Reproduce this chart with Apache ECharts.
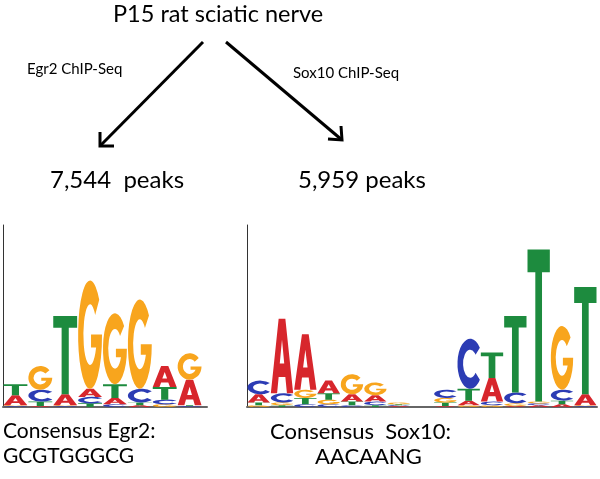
<!DOCTYPE html>
<html>
<head>
<meta charset="utf-8">
<script src="https://cdn.jsdelivr.net/npm/echarts@6/dist/echarts.min.js"></script>
<style>
  html, body { margin: 0; padding: 0; background: #fff; }
  #chart { width: 600px; height: 479px; }
</style>
</head>
<body>
<div id="chart"></div>
<script>
// letter heights (bits) per motif position
const bases = ['A', 'C', 'G', 'T'];

const egr2A = [0.11, 0.01, 0.12, 0.09, 0.07, 0.02, 0.23, 0.28];
const egr2C = [0.01, 0.13, 0.01, 0.07, 0.03, 0.15, 0.05, 0.01];
const egr2G = [0.01, 0.26, 0.01, 1.19, 0.78, 0.98, 0.03, 0.29];
const egr2T = [0.12, 0.05, 0.86, 0.04, 0.15, 0.03, 0.14, 0.01];

const sox10A = [0.09, 0.82, 0.61, 0.14, 0.08, 0.07, 0.01, 0, 0.01, 0.05, 0.26, 0.01, 0.02, 0.03, 0.12];
const sox10C = [0.15, 0.10, 0.03, 0.03, 0.02, 0.04, 0.01, 0, 0.09, 0.55, 0.04, 0.12, 0.02, 0.12, 0.01];
const sox10G = [0.02, 0.03, 0.09, 0.05, 0.22, 0.14, 0.02, 0, 0.05, 0.02, 0.02, 0.03, 0.02, 0.70, 0.01];
const sox10T = [0.03, 0.02, 0.07, 0.07, 0.04, 0.02, 0.01, 0, 0.04, 0.13, 0.28, 0.84, 1.67, 0.04, 1.18];

const baseColors = { A: '#d7262c', C: '#2c3cb4', G: '#f8a51d', T: '#1d8b3e' };

// glyph outlines in a 100x100 box, stretched to each letter's cell
const glyphs = {
  A: 'M0 100 L35 0 L65 0 L100 100 L72 100 L65 78 L35 78 L28 100 Z M40 60 L60 60 L50 28 Z',
  C: 'M88.3 17.9 A50 50 0 1 0 88.3 82.1 L71.4 68 A28 28 0 1 1 71.4 32 Z',
  G: 'M88.3 17.9 A50 50 0 1 0 100 50 L54 50 L54 62 L75.3 62 A28 28 0 1 1 71.4 32 Z',
  T: 'M0 0 L100 0 L100 15 L65 15 L65 100 L35 100 L35 15 L0 15 Z'
};

function toRows(a, c, g, t) {
  return a.map((v, i) => [i, v, c[i], g[i], t[i]]);
}

function renderLogo(params, api) {
  const i = api.value(0);
  // smallest letter at the bottom, largest on top
  const letters = bases.map((b, k) => ({ b: b, h: api.value(k + 1) }))
    .sort((p, q) => p.h - q.h);
  const children = [];
  let acc = 0;
  letters.forEach(({ b, h }) => {
    const lo = api.coord([i, acc]);
    const hi = api.coord([i + 1, acc + h]);
    acc += h;
    const height = lo[1] - hi[1];
    if (height < 0.6) return;
    children.push({
      type: 'path',
      shape: {
        pathData: glyphs[b],
        x: lo[0] + 0.5,
        y: hi[1],
        width: hi[0] - lo[0] - 1,
        height: height,
        layout: 'cover'
      },
      style: { fill: baseColors[b] }
    });
  });
  return { type: 'group', children: children };
}

function axisX(grid, max) {
  return {
    gridIndex: grid, type: 'value', min: 0, max: max,
    axisLine: { show: true, onZero: false, lineStyle: { color: '#666', width: 2 } },
    axisTick: { show: false }, axisLabel: { show: false }, splitLine: { show: false }
  };
}
function axisY(grid) {
  return {
    gridIndex: grid, type: 'value', min: 0, max: 2,
    axisLine: { show: true, lineStyle: { color: '#333', width: 1 } },
    axisTick: { show: false }, axisLabel: { show: false }, splitLine: { show: false }
  };
}

const font = 'Lato';
function label(text, x, y, size) {
  return {
    type: 'text', x: x, y: y,
    style: {
      text: text, font: size + 'px ' + font, fill: '#000',
      align: 'left', textAlign: 'left', verticalAlign: 'top', textVerticalAlign: 'top'
    }
  };
}
function arrow(x1, y1, x2, y2, armA, armB) {
  return [
    { type: 'line', shape: { x1: x1, y1: y1, x2: x2, y2: y2 }, style: { stroke: '#000', lineWidth: 3 } },
    { type: 'polyline', shape: { points: [armA, [x2, y2], armB] }, style: { stroke: '#000', lineWidth: 3, fill: null } }
  ];
}

const chart = echarts.init(document.getElementById('chart'));
chart.setOption({
  animation: false,
  backgroundColor: '#fff',
  grid: [
    { left: 3, top: 225, width: 204, height: 182 },
    { left: 247, top: 225, width: 350, height: 182 }
  ],
  xAxis: [axisX(0, 8.2), axisX(1, 15)],
  yAxis: [axisY(0), axisY(1)],
  series: [
    { type: 'custom', xAxisIndex: 0, yAxisIndex: 0, renderItem: renderLogo, data: toRows(egr2A, egr2C, egr2G, egr2T) },
    { type: 'custom', xAxisIndex: 1, yAxisIndex: 1, renderItem: renderLogo, data: toRows(sox10A, sox10C, sox10G, sox10T) }
  ],
  graphic: [
    label('P15 rat sciatic nerve', 113, 2, 23.5),
    label('Egr2 ChIP-Seq', 27, 62, 15),
    label('Sox10 ChIP-Seq', 293, 66, 15),
    label('7,544  peaks', 50, 168, 24),
    label('5,959 peaks', 298, 168, 24),
    label('Consensus Egr2:', 3, 421, 21),
    label('GCGTGGGCG', 3, 446, 21),
    label('Consensus  Sox10:', 270, 421, 22),
    label('AACAANG', 315, 446, 22)
  ].concat(
    arrow(203, 42, 100, 146, [100, 132], [114, 146]),
    arrow(226, 42, 342, 140, [341, 126], [328, 139])
  )
});
</script>
</body>
</html>
